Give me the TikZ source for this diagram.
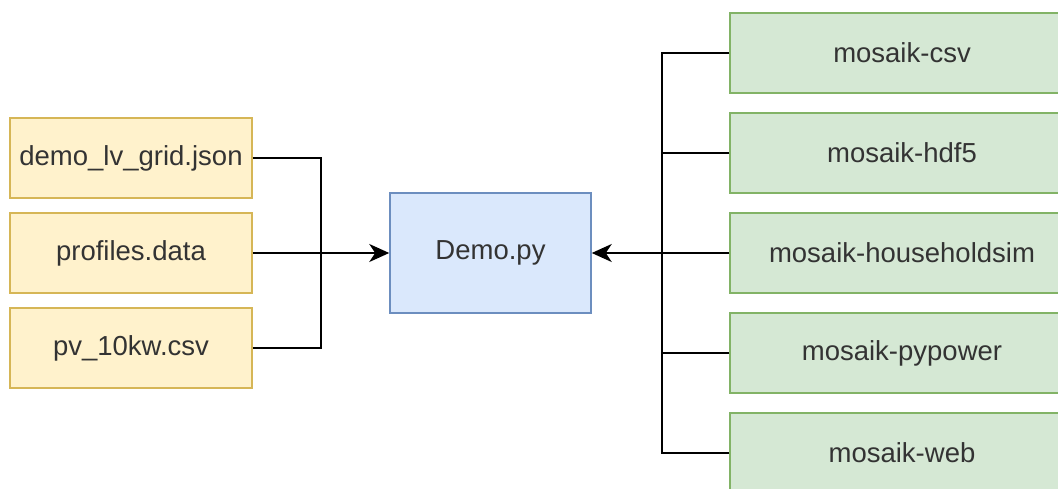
\documentclass[tikz,border=0pt]{standalone}
\usepackage{fontspec}
\setmainfont{Liberation Sans}
\usetikzlibrary{arrows.meta}
\definecolor{yfill}{HTML}{FFF2CC}
\definecolor{ydraw}{HTML}{D6B656}
\definecolor{bfill}{HTML}{DAE8FC}
\definecolor{bdraw}{HTML}{6C8EBF}
\definecolor{gfill}{HTML}{D5E8D4}
\definecolor{gdraw}{HTML}{82B366}
\definecolor{txt}{HTML}{333333}
\tikzset{
  box/.style={rectangle, inner sep=0pt, line width=1.5pt, text=txt,
    font=\fontsize{27.5}{32}\selectfont},
  filebox/.style={box, fill=yfill, draw=ydraw, minimum width=242pt, minimum height=80pt},
  mainbox/.style={box, fill=bfill, draw=bdraw, minimum width=201pt, minimum height=120pt},
  pkgbox/.style={box, fill=gfill, draw=gdraw, minimum width=344pt, minimum height=80pt},
  link/.style={line width=2.3pt, black},
  arrow/.style={link, -{Stealth[length=20pt, width=18pt, inset=6pt]}}
}
\begin{document}
\begin{tikzpicture}[x=1pt, y=-1pt]
  \useasboundingbox (0,0) rectangle (1058,489);
  \fill[white] (0,0) rectangle (1058,489);
  \clip (0,0) rectangle (1058,489);

  % input files
  \node[filebox] (f1) at (131,158) {demo\_lv\_grid.json};
  \node[filebox] (f2) at (131,253) {profiles.data};
  \node[filebox] (f3) at (131,348) {pv\_10kw.csv};

  % main script
  \node[mainbox] (demo) at (490.5,253) {Demo.py};

  % mosaik packages
  \node[pkgbox] (p1) at (902,53)  {mosaik-csv};
  \node[pkgbox] (p2) at (902,153) {mosaik-hdf5};
  \node[pkgbox] (p3) at (902,253) {mosaik-householdsim};
  \node[pkgbox] (p4) at (902,353) {mosaik-pypower};
  \node[pkgbox] (p5) at (902,453) {mosaik-web};

  % junction points of the bus lines
  \coordinate (lj) at (321,253);
  \coordinate (rj) at (662,253);

  % inputs to Demo.py
  \draw[link] (f1.east) -| (lj);
  \draw[link] (f3.east) -| (lj);
  \draw[arrow] (f2.east) -- (demo.west);

  % packages to Demo.py
  \draw[link] (p1.west) -| (rj);
  \draw[link] (p5.west) -| (rj);
  \draw[link] (p2.west) -- (p2.west -| rj);
  \draw[link] (p4.west) -- (p4.west -| rj);
  \draw[arrow] (p3.west) -- (demo.east);
\end{tikzpicture}
\end{document}
